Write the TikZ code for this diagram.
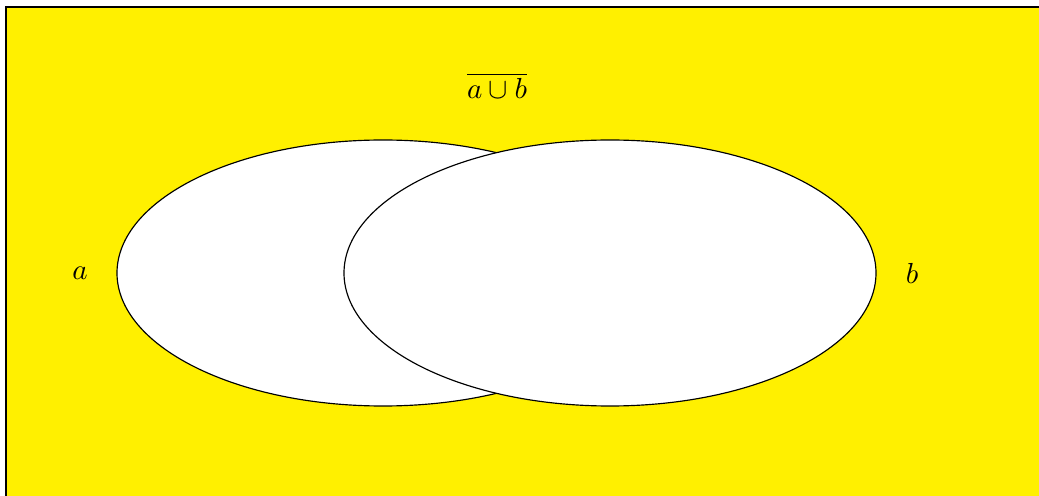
\documentclass[tikz,border=0pt]{standalone}
\usetikzlibrary{shapes.geometric}
\definecolor{venny}{RGB}{255,240,0}
\begin{document}
\begin{tikzpicture}[x=0.345pt,y=-0.345pt,
  setshape/.style={ellipse,draw=black,fill=white,line width=0.4pt,inner sep=0pt,
    minimum width=532*0.345pt,minimum height=266*0.345pt},
  lbl/.style={inner sep=0pt}]
\useasboundingbox (0,0) rectangle (1039,496);
\clip (0,0) rectangle (1039,496);
\draw[fill=venny,line width=0.5pt] (6,7) rectangle (1080,530);
\node[setshape] (A) at (383,273) {};
\node[setshape] (B) at (610,273) {};
\node[lbl] (la) at (80,273) {$a$};
\node[lbl] (lb) at (912,273) {$b$};
\node[lbl] (lu) at (497,86) {$\overline{a\cup b}$};
\end{tikzpicture}
\end{document}
